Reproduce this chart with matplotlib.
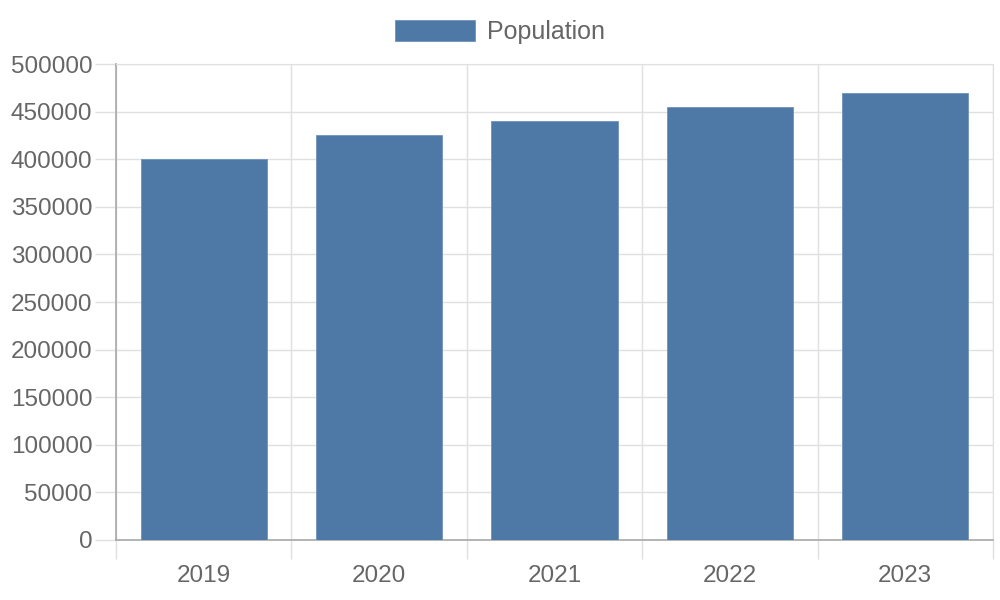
import matplotlib
matplotlib.use("Agg")
import matplotlib.pyplot as plt
import numpy as np

years = ["2019", "2020", "2021", "2022", "2023"]
population = [400000, 425000, 440000, 455000, 470000]
y_ticks = [0, 50000, 100000, 150000, 200000, 250000, 300000, 350000, 400000, 450000, 500000]

BAR = "#4e79a7"
GRID = "#e0e0e0"
AXIS = "#a8a8a8"
TEXT = "#666666"

plt.rcParams['font.family'] = ['Liberation Sans', 'DejaVu Sans']

fig = plt.figure(figsize=(10, 6), dpi=100)
ax = fig.add_axes([0.116, 0.1, 0.877, 0.7933])

x = np.arange(len(years))
ax.bar(x, population, width=0.72, color=BAR, edgecolor="#6f93bb", linewidth=0.6,
       label="Population", zorder=3)

ax.set_xlim(-0.5, len(years) - 0.5)
ax.set_ylim(0, 500000)
ax.set_yticks(y_ticks)
ax.set_yticklabels([str(v) for v in y_ticks])
ax.set_xticks(x)
ax.set_xticklabels(years)
ax.set_xticks(np.arange(-0.5, len(years)), minor=True)

ax.grid(axis="y", which="major", color=GRID, linewidth=1, zorder=0)
ax.grid(axis="x", which="minor", color=GRID, linewidth=1, zorder=0)

ax.tick_params(axis="x", which="major", length=0, pad=18, labelsize=17.5, labelcolor=TEXT)
ax.tick_params(axis="x", which="minor", length=14, width=1, color=GRID)
ax.tick_params(axis="y", length=15, width=1, color=GRID, pad=2, labelsize=17.5, labelcolor=TEXT)

for side in ["top", "right"]:
    ax.spines[side].set_color(GRID)
for side in ["left", "bottom"]:
    ax.spines[side].set_color(AXIS)
    ax.spines[side].set_linewidth(1.2)

fig.legend(loc="center", bbox_to_anchor=(0.5, 1 - 32 / 600), frameon=False,
           handlelength=3.2, handleheight=0.95, handletextpad=0.5,
           fontsize=18, labelcolor=TEXT)

fig.savefig("out.png", dpi=100)
